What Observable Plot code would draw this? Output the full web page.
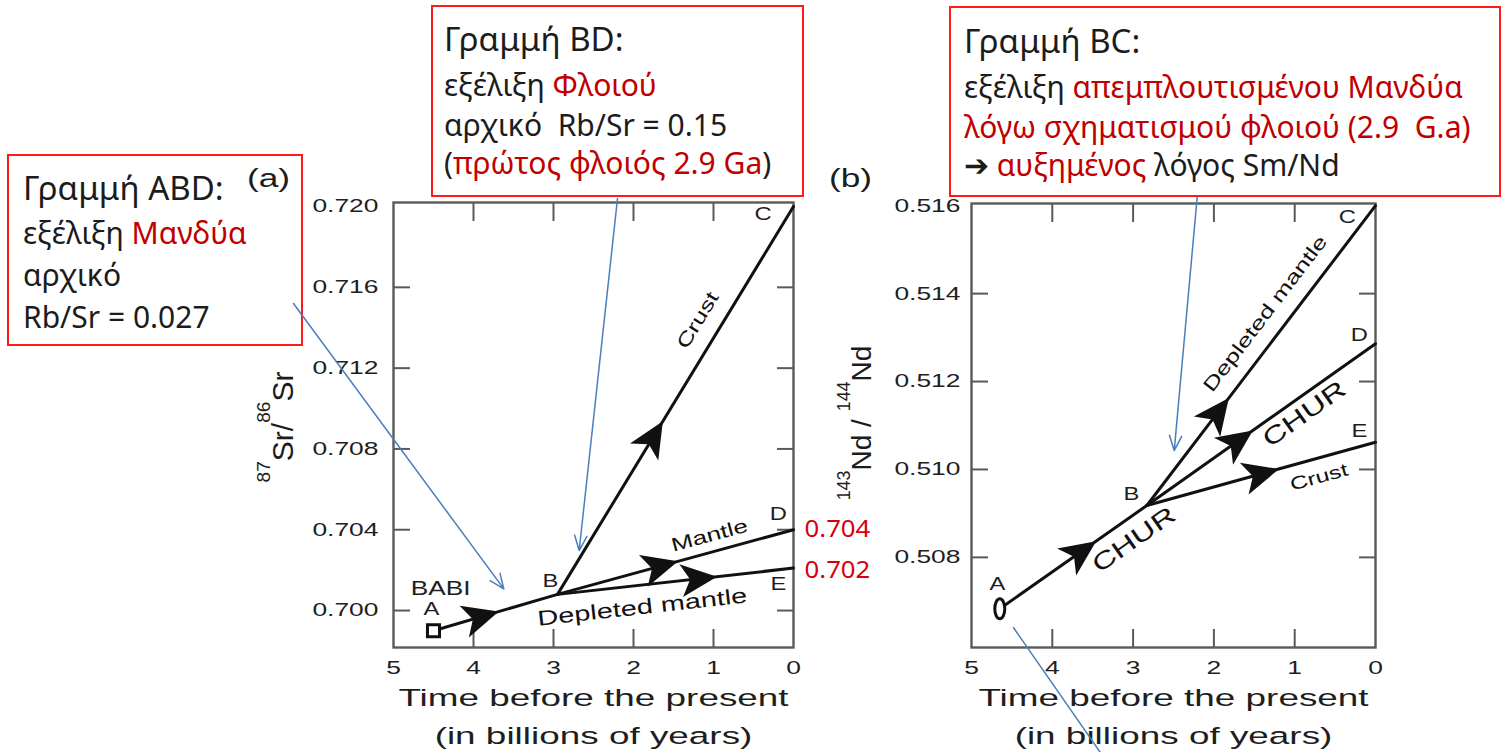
<!DOCTYPE html>
<html><head><meta charset="utf-8">
<script src="https://cdn.jsdelivr.net/npm/d3@7"></script>
<script src="https://cdn.jsdelivr.net/npm/@observablehq/plot@0.6"></script>
<style>
body{margin:0;background:#fff}
#root{position:relative;width:1503px;height:752px;overflow:hidden;font-family:"Noto Sans",sans-serif;background:#fff}
.box{position:absolute;border:2px solid #ff1a1a;box-sizing:border-box}
.ln{position:absolute;white-space:pre;line-height:1;color:#1c1c1c;font-family:"Noto Sans",sans-serif}
.panel{position:absolute;top:0}
.ytitle{position:absolute;transform:translate(-50%,-50%) rotate(-90deg);white-space:nowrap;line-height:1;font-family:"Liberation Sans",Arial,sans-serif;color:#1c1c1c}
.sup{font-size:0.64em;position:relative;top:-1.2em}
.plab{position:absolute;line-height:1;white-space:nowrap;font-family:"Liberation Sans",Arial,sans-serif;color:#1c1c1c;transform-origin:0 0}
</style></head>
<body><div id="root"></div>
<script>
// ---------------- DATA: panel (a) 87Sr/86Sr ----------------
const srNames = ["A","B","C","D","E"];
const srAge = [4.5, 2.95, 0, 0, 0];
const srRatio = [0.6990, 0.7008, 0.7200, 0.7040, 0.7021];
const srSegments = ["AB","BC","BD","BE"];
const srArrowSeg = ["AB","BC","BD","BE"];
const srArrowAge = [3.90, 1.75, 1.66, 1.18];
const srArrowRatio = [0.69970, 0.70861, 0.70220, 0.70158];
const srLabelText = ["Crust","Mantle","Depleted mantle"];
const srLabelSeg = ["BC","BD","BE"];
const srLabelAge = [1.196, 1.05, 1.89];
const srLabelRatio = [0.71436, 0.70371, 0.70016];
const srLetterText = ["A","B","C","D","E","BABI"];
const srLetterAge = [4.525, 3.04, 0.38, 0.19, 0.19, 4.41];
const srLetterRatio = [0.7001, 0.70149, 0.71964, 0.70479, 0.70132, 0.70109];
const srValueText = ["0.704","0.702"];
const srValueRatio = [0.704, 0.702];
const srTicks = [0.700,0.704,0.708,0.712,0.716,0.720];
const srInnerTicks = [0.700,0.704,0.708,0.712,0.716];
const srDomain = [0.69817, 0.72020];
const srNoteFrom = [[6.25, 0.71520],[2.2, 0.72040]];
const srNoteTo = [[3.621, 0.70107],[2.679, 0.70297]];
const srTitle = ["87","Sr/","86","Sr"];

// ---------------- DATA: panel (b) 143Nd/144Nd ----------------
const ndNames = ["A","B","C","D","E"];
const ndAge = [4.65, 2.83, 0, 0, 0];
const ndRatio = [0.50683, 0.50918, 0.51600, 0.51286, 0.51062];
const ndSegments = ["AB","BC","BD","BE"];
const ndArrowSeg = ["AB","BC","BD","BE"];
const ndArrowAge = [3.64, 1.95, 1.70, 1.41];
const ndArrowRatio = [0.50813, 0.51130, 0.51065, 0.50990];
const ndLabelText = ["Depleted mantle","CHUR","Crust","CHUR"];
const ndLabelSeg = ["BC","BD","BE","AB"];
const ndLabelAge = [1.364, 0.88, 0.70, 2.99];
const ndLabelRatio = [0.51354, 0.51126, 0.50982, 0.50840];
const ndLetterText = ["A","B","C","D","E"];
const ndLetterAge = [4.68, 3.02, 0.35, 0.20, 0.20];
const ndLetterRatio = [0.50740, 0.50944, 0.51574, 0.51305, 0.51088];
const ndTicks = [0.508,0.510,0.512,0.514,0.516];
const ndInnerTicks = [0.508,0.510,0.512,0.514];
const ndDomain = [0.50595, 0.51605];
const ndNoteFrom = [[2.207, 0.51619]];
const ndNoteTo = [[2.491, 0.51043]];
const ndNoteLineFrom = [[4.484, 0.50641]];
const ndNoteLineTo = [[3.249, 0.50315]];
const ndTitle = ["143","Nd / ","144","Nd"];

// ---------------- shared ----------------
const ageTicks = [5,4,3,2,1,0];
const ageInnerTicks = [4,3,2,1];
const xTitle = "Time before the present\n(in billions of years)";
const panelTags = ["(a)","(b)"];

const boxABD = [[["Γραμμή ABD:",0]], [["εξέλιξη ",0],["Μανδύα",1]], [["αρχικό",0]], [["Rb/Sr = 0.027",0]]];
const boxBD = [[["Γραμμή BD:",0]], [["εξέλιξη ",0],["Φλοιού",1]], [["αρχικό  Rb/Sr = 0.15",0]], [["(",0],["πρώτος φλοιός 2.9 Ga",1],[")",0]]];
const boxBC = [[["Γραμμή BC:",0]], [["εξέλιξη ",0],["απεμπλουτισμένου Μανδύα",1]], [["λόγω σχηματισμού φλοιού (2.9  G.a)",1]], [["➔ ",0],["αυξημένος",1],[" λόγος Sm/Nd",0]]];

// ---------------- STYLE / LAYOUT ----------------
const FONT = '"Liberation Sans", Arial, sans-serif';
const INK = "#111", FRAME = "#5a5a5a", TXT = "#1e1e1e", RED = "#c00000", VALRED = "#d80010", BLUE = "#4a7ebb";
const H = 752;
const root = document.getElementById("root");

const arrowHead = { draw(ctx, size) { const r = Math.sqrt(size / Math.PI);
  ctx.moveTo(r, 0); ctx.lineTo(-r, -0.92 * r); ctx.lineTo(-0.5 * r, 0); ctx.lineTo(-r, 0.92 * r); ctx.closePath(); } };
const ovalSym = { draw(ctx, size) { const r = Math.sqrt(size / Math.PI), rx = r * 0.5, ry = r, k = 0.5523;
  ctx.moveTo(rx, 0);
  ctx.bezierCurveTo(rx, ry * k, rx * k, ry, 0, ry);
  ctx.bezierCurveTo(-rx * k, ry, -rx, ry * k, -rx, 0);
  ctx.bezierCurveTo(-rx, -ry * k, -rx * k, -ry, 0, -ry);
  ctx.bezierCurveTo(rx * k, -ry, rx, -ry * k, rx, 0);
  ctx.closePath(); } };

function widen(svg) {
  svg.querySelectorAll("text").forEach(t => {
    const s = t.textContent;
    const g = t.closest("[fill]");
    let f = 1.42;
    if (/Time/.test(s)) f = 1.57;
    else if (g && g.getAttribute("fill") === VALRED) f = 1.12;
    else if (/^([A-E]|BABI)$/.test(s)) f = 1.25;
    else if (/Crust|Mantle|mantle|CHUR/.test(s)) f = 1.38;
    let tr = t.getAttribute("transform");
    if (!tr || !/translate/.test(tr)) {
      const x = +t.getAttribute("x") || 0, y = +t.getAttribute("y") || 0;
      t.removeAttribute("x"); t.removeAttribute("y");
      tr = `translate(${x},${y})` + (tr ? " " + tr : "");
    }
    t.setAttribute("transform", tr + ` scale(${f},1)`);
  });
}

function buildPanel(p) {
  const common = {
    width: p.width, height: H,
    marginTop: p.mt, marginBottom: p.mb, marginLeft: p.ml, marginRight: p.mr,
    x: {domain: [5, 0], label: null},
    y: {domain: p.domain, label: null},
    style: {background: "transparent", overflow: "visible", fontFamily: FONT}
  };
  const base = Plot.plot({...common, marks: [Plot.frame()]});
  const sx = base.scale("x"), sy = base.scale("y");
  const pt = Object.fromEntries(p.names.map((n, i) => [n, [p.age[i], p.ratio[i]]]));
  const angle = seg => {
    const a = pt[seg[0]], b = pt[seg[1]];
    return Math.atan2(sy.apply(b[1]) - sy.apply(a[1]), sx.apply(b[0]) - sx.apply(a[0])) * 180 / Math.PI;
  };
  const lineRows = p.segments.flatMap(s => [s[0], s[1]].map(n => ({seg: s, age: pt[n][0], ratio: pt[n][1]})));
  const arrowRows = p.arrowAge.map((a, i) => ({age: a, ratio: p.arrowRatio[i], angle: angle(p.arrowSeg[i])}));
  const labelRows = p.labelText.map((t, i) => ({text: t, age: p.labelAge[i], ratio: p.labelRatio[i], angle: angle(p.labelSeg[i]), fs: p.labelFont[i]}));
  const letterRows = p.letterText.map((t, i) => ({text: t, age: p.letterAge[i], ratio: p.letterRatio[i], fs: t === "BABI" ? 21 : 19}));
  const noteRows = p.noteFrom.map((f, i) => ({x1: f[0], y1: f[1], x2: p.noteTo[i][0], y2: p.noteTo[i][1]}));
  const noteLineRows = (p.noteLineFrom || []).map((f, i) => ({x1: f[0], y1: f[1], x2: p.noteLineTo[i][0], y2: p.noteLineTo[i][1]}));

  const marks = [
    Plot.frame({stroke: FRAME, strokeWidth: 2.4}),
    Plot.axisY({anchor: "left", ticks: p.ticks, tickFormat: d3.format(".3f"), tickSize: 0, tickPadding: p.yPad, fontSize: 18.6, color: TXT, label: null}),
    Plot.axisY({anchor: "left", ticks: p.innerTicks, tickSize: 17, dx: 17, tickFormat: () => "", stroke: FRAME, strokeWidth: 2, label: null}),
    Plot.axisY({anchor: "right", ticks: p.innerTicks, tickSize: 17, dx: -17, tickFormat: () => "", stroke: FRAME, strokeWidth: 2, label: null}),
    Plot.axisX({anchor: "bottom", ticks: ageTicks, tickFormat: d => String(d), tickSize: 0, tickPadding: 13, fontSize: 18.6, color: TXT, label: null}),
    Plot.axisX({anchor: "bottom", ticks: ageInnerTicks, tickSize: 18, dy: -18, tickFormat: () => "", stroke: FRAME, strokeWidth: 2, label: null}),
    Plot.axisX({anchor: "top", ticks: ageInnerTicks, tickSize: 18, dy: 18, tickFormat: () => "", stroke: FRAME, strokeWidth: 2, label: null}),
    Plot.line(lineRows, {x: "age", y: "ratio", z: "seg", stroke: INK, strokeWidth: 3, strokeLinecap: "round"}),
    Plot.dot(arrowRows, {x: "age", y: "ratio", rotate: "angle", r: 18, symbol: arrowHead, fill: INK, stroke: "none"}),
    Plot.dot([pt.A], {x: d => d[0], y: d => d[1], r: p.aR, symbol: p.aSymbol, fill: "white", stroke: INK, strokeWidth: 3}),
    Plot.text(letterRows, {x: "age", y: "ratio", text: "text", fontSize: "fs", fill: TXT}),
    Plot.text(labelRows, {x: "age", y: "ratio", text: "text", rotate: "angle", fontSize: "fs", fill: INK}),
    Plot.text([xTitle], {text: d => d, frameAnchor: "bottom", lineAnchor: "middle", dy: 65, fontSize: 23.5, lineHeight: 1.617, fill: TXT}),
    Plot.arrow(noteRows, {x1: "x1", y1: "y1", x2: "x2", y2: "y2", stroke: BLUE, strokeWidth: 1.5, headLength: 16, headAngle: 45}),
    Plot.link(noteLineRows, {x1: "x1", y1: "y1", x2: "x2", y2: "y2", stroke: BLUE, strokeWidth: 1.5})
  ];
  if (p.valueText) {
    const valueRows = p.valueText.map((t, i) => ({text: t, ratio: p.valueRatio[i]}));
    marks.push(Plot.text(valueRows, {x: () => 0, y: "ratio", text: "text", textAnchor: "start", dx: 11, fontSize: 23, fontFamily: "Noto Sans", fill: VALRED}));
  }
  const svg = Plot.plot({...common, marks});
  widen(svg);
  const holder = document.createElement("div");
  holder.className = "panel";
  holder.style.left = p.left + "px";
  holder.appendChild(svg);
  root.appendChild(holder);
}

// boxes first (under the charts)
const boxes = [
  {rect: [7, 154, 296, 192], textLeft: 23, tops: [170.7, 218.4, 260, 301.7], lines: boxABD},
  {rect: [431, 5, 373, 192], textLeft: 444, tops: [22.4, 70.1, 110.1, 148.4], lines: boxBD},
  {rect: [949, 6, 552, 191], textLeft: 964, tops: [24, 71.7, 111.7, 150.1], lines: boxBC}
];
boxes.forEach(b => {
  const el = document.createElement("div");
  el.className = "box";
  Object.assign(el.style, {left: b.rect[0] + "px", top: b.rect[1] + "px", width: b.rect[2] + "px", height: b.rect[3] + "px"});
  root.appendChild(el);
  b.lines.forEach((line, i) => {
    const d = document.createElement("div");
    d.className = "ln";
    d.style.left = b.textLeft + "px";
    d.style.top = b.tops[i] + "px";
    d.style.fontSize = (i === 0 ? 33 : 30) + "px";
    line.forEach(([t, red]) => { const s = document.createElement("span"); s.textContent = t; if (red) s.style.color = RED; d.appendChild(s); });
    root.appendChild(d);
  });
});

buildPanel({
  left: 0, width: 880, mt: 202, mb: 105, ml: 393, mr: 87, yPad: 15,
  names: srNames, age: srAge, ratio: srRatio, segments: srSegments,
  arrowSeg: srArrowSeg, arrowAge: srArrowAge, arrowRatio: srArrowRatio,
  labelText: srLabelText, labelSeg: srLabelSeg, labelAge: srLabelAge, labelRatio: srLabelRatio, labelFont: [19, 19, 21],
  letterText: srLetterText, letterAge: srLetterAge, letterRatio: srLetterRatio,
  valueText: srValueText, valueRatio: srValueRatio,
  ticks: srTicks, innerTicks: srInnerTicks, domain: srDomain,
  noteFrom: srNoteFrom, noteTo: srNoteTo,
  aSymbol: "square", aR: 6.8
});
buildPanel({
  left: 880, width: 623, mt: 203, mb: 105, ml: 91, mr: 128, yPad: 11,
  names: ndNames, age: ndAge, ratio: ndRatio, segments: ndSegments,
  arrowSeg: ndArrowSeg, arrowAge: ndArrowAge, arrowRatio: ndArrowRatio,
  labelText: ndLabelText, labelSeg: ndLabelSeg, labelAge: ndLabelAge, labelRatio: ndLabelRatio, labelFont: [19, 24, 18, 24],
  letterText: ndLetterText, letterAge: ndLetterAge, letterRatio: ndLetterRatio,
  ticks: ndTicks, innerTicks: ndInnerTicks, domain: ndDomain,
  noteFrom: ndNoteFrom, noteTo: ndNoteTo, noteLineFrom: ndNoteLineFrom, noteLineTo: ndNoteLineTo,
  aSymbol: ovalSym, aR: 10
});

// y-axis titles with superscripts
function yTitle(parts, cx, cy, fs) {
  const d = document.createElement("div");
  d.className = "ytitle";
  Object.assign(d.style, {left: cx + "px", top: cy + "px", fontSize: fs + "px"});
  parts.forEach((t, i) => { const s = document.createElement("span"); s.textContent = t; if (i % 2 === 0) s.className = "sup"; d.appendChild(s); });
  root.appendChild(d);
}
yTitle(srTitle, 282.9, 426.5, 30);
yTitle(ndTitle, 862, 423.3, 28);

// panel tags (a) (b)
[[panelTags[0], 247, 165], [panelTags[1], 829, 165]].forEach(([t, x, y]) => {
  const d = document.createElement("div");
  d.className = "plab";
  d.textContent = t;
  Object.assign(d.style, {left: x + "px", top: y + "px", fontSize: "26.5px", transform: "scaleX(1.33)"});
  root.appendChild(d);
});
</script>
</body></html>
